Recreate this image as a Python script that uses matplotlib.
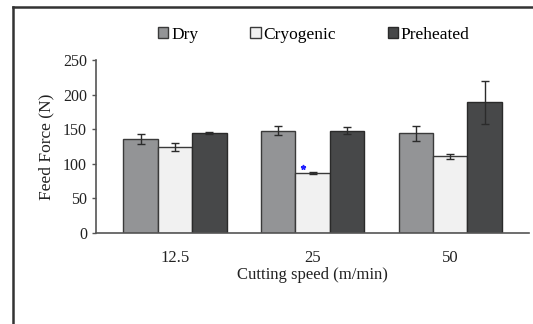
import numpy as np
import matplotlib
matplotlib.use('Agg')
import matplotlib.pyplot as plt
from matplotlib.lines import Line2D

plt.rcParams['font.family'] = ['Liberation Serif', 'DejaVu Serif']

speeds = ['12.5', '25', '50']
dry = [136, 148, 144]
dry_err = [7, 7, 11]
cryo = [124, 87, 111]
cryo_err = [6, 1.5, 3.5]
preheated = [144, 148, 189]
pre_err = [1.5, 5, 31]
# blue significance mark on the cryogenic bar at 25 m/min
star_pos = (1, 96)

fig = plt.figure(figsize=(5.33, 3.24), dpi=100)
ax = fig.add_axes([0.180, 0.281, 0.813, 0.534])

x = np.arange(len(speeds))
w = 0.25
ekw = dict(ecolor='#2b2b2b', elinewidth=1.0, capsize=3, capthick=1.0)
ax.bar(x - w, dry, w, yerr=dry_err, color='#939496', edgecolor='#3a3a3a', linewidth=1.0, label='Dry', error_kw=ekw)
ax.bar(x, cryo, w, yerr=cryo_err, color='#f1f1f1', edgecolor='#3a3a3a', linewidth=1.0, label='Cryogenic', error_kw=ekw)
ax.bar(x + w, preheated, w, yerr=pre_err, color='#474849', edgecolor='#2a2a2a', linewidth=1.0, label='Preheated', error_kw=ekw)

ax.plot(star_pos[0] - 0.07, star_pos[1], marker='*', color='#2020ff', markersize=3.5, linestyle='none')

ax.set_xlim(-0.575, 2.575)
ax.set_ylim(0, 250)
ax.set_yticks([0, 50, 100, 150, 200, 250])
ax.set_xticks(x)
ax.set_xticklabels(speeds)
ax.tick_params(axis='x', length=0, labelsize=12, pad=12, colors='#222222')
ax.tick_params(axis='y', length=3, labelsize=11.5, colors='#555555', labelcolor='#222222', width=1)
for s in ['top', 'right']:
    ax.spines[s].set_visible(False)
for s in ['left', 'bottom']:
    ax.spines[s].set_color('#555555')
    ax.spines[s].set_linewidth(1.2)

ax.set_xlabel('Cutting speed (m/min)', fontsize=12, color='#222222', labelpad=1)
ax.set_ylabel('Feed Force (N)', fontsize=12.5, color='#222222', labelpad=6)

fig.legend(loc='center', bbox_to_anchor=(0.589, 0.893), ncol=3, frameon=False,
           fontsize=12.5, handlelength=0.6, handleheight=0.6, handletextpad=0.15,
           columnspacing=3.0)

# outer frame (left and top only visible)
fig.add_artist(Line2D([0.0244, 0.0244], [0, 0.978], transform=fig.transFigure, color='#333333', lw=1.8))
fig.add_artist(Line2D([0.0244, 1.0], [0.978, 0.978], transform=fig.transFigure, color='#333333', lw=1.8))

fig.savefig('out.png', dpi=100)
